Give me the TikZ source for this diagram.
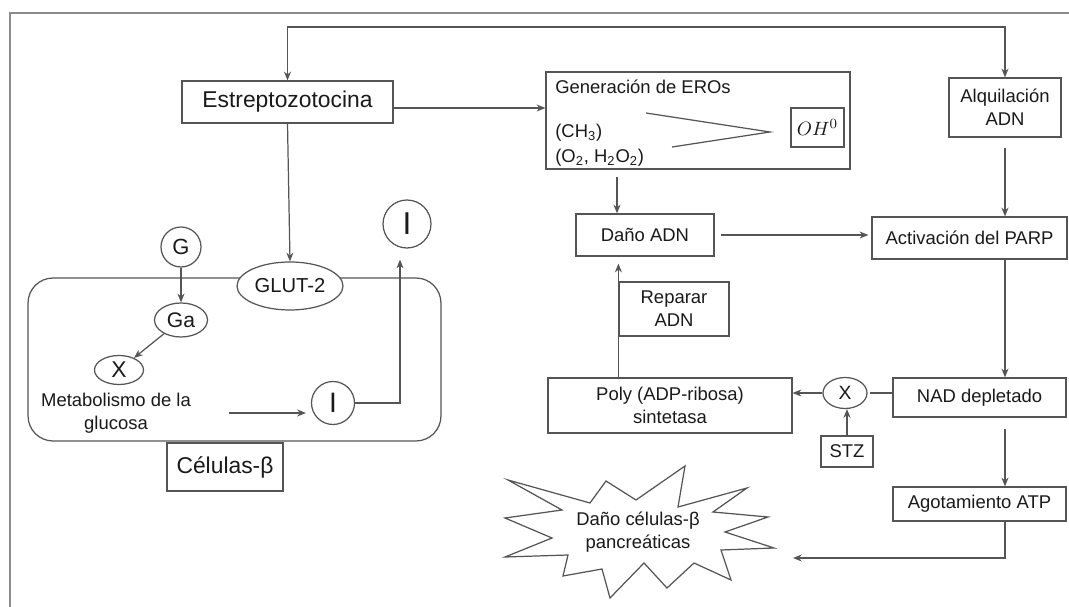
\documentclass[tikz,border=0pt]{standalone}
\usepackage{fontspec}
\setmainfont{Liberation Sans}
\usetikzlibrary{arrows.meta, positioning, calc, shapes.geometric}
\definecolor{ink}{HTML}{1A1A1A}
\definecolor{edge}{HTML}{555555}
\definecolor{frame}{HTML}{8C8C8C}
\newcommand{\fs}[1]{\fontsize{#1}{13}\selectfont}
\tikzset{
  font=\fs{10.5},
  >={Stealth[length=5pt, width=4pt]},
  %
  box/.style={draw=edge, line width=0.7pt, fill=white, inner sep=0pt,
              align=center, text=ink},
  oval/.style={box, ellipse},
  ring/.style={box, circle},
  %
  flow/.style={draw=edge, line width=0.7pt, ->},
  link/.style={draw=edge, line width=0.7pt},
  lbl/.style={inner sep=0pt, text=ink, align=left},
}

\begin{document}
\begin{tikzpicture}[x=0.02cm, y=-0.02cm]
  \useasboundingbox (0,0) rectangle (1069,607);

  % --- frame ------------------------------------------------------------
  \draw[draw=frame, line width=1pt] (10,607) -- (10,13) -- (1069,13);

  % --- beta cell --------------------------------------------------------
  \node[box, rounded corners=0.5cm, minimum width=8.26cm,
        minimum height=3.26cm] (cell) at (234.5,359.5) {};
  \node[box, minimum width=2.32cm, minimum height=0.96cm, font=\fs{13}]
    (beta) at (225,467) {Células-β};
  \node[oval, minimum width=2.12cm, minimum height=0.96cm, font=\fs{11.5}]
    (glut) at (290,286) {GLUT-2};
  \node[ring, minimum size=0.8cm, font=\fs{12.5}] (g) at (181,247) {G};
  \node[oval, minimum width=1.06cm, minimum height=0.68cm, font=\fs{12}]
    (ga) at (181,320) {Ga};
  \node[oval, minimum width=0.98cm, minimum height=0.58cm, font=\fs{13}]
    (xa) at (119,370) {X};
  \node[lbl, align=center] (metab) at (116,413) {Metabolismo de la\\glucosa};
  \node[ring, minimum size=0.86cm, font=\fs{16}] (iin) at (333,403) {I};
  \node[ring, minimum size=0.96cm, font=\fs{18}] (iout) at (407,224) {I};

  \node[box, minimum width=4.22cm, minimum height=0.84cm, font=\fs{13}]
    (estr) at (287.5,102) {Estreptozotocina};

  % --- ROS --------------------------------------------------------------
  \node[box, minimum width=6.08cm, minimum height=1.94cm] (eros) at (698,120.5) {};
  \node[lbl, anchor=west] (erostit) at (555,87) {Generación de EROs};
  \node[lbl, anchor=west] (ch) at (555,133) {(CH\textsubscript{3})};
  \node[lbl, anchor=west] (oo) at (555,158)
    {(O\textsubscript{2}, H\textsubscript{2}O\textsubscript{2})};
  \node[box, minimum width=1.06cm, minimum height=0.78cm, font=\fs{11}]
    (oh) at (817.5,127.5) {$OH^{0}$};
  \draw[link] (646,113) -- (770,132) -- (672,147);

  % --- DNA / PARP -------------------------------------------------------
  \node[box, minimum width=2.24cm, minimum height=1.18cm] (alq) at (1005,107.5)
    {Alquilación\\ADN};
  \node[box, minimum width=3.9cm, minimum height=0.84cm] (act) at (969.5,238)
    {Activación del PARP};
  \node[box, minimum width=2.76cm, minimum height=0.84cm] (dano) at (645,235)
    {Daño ADN};
  \node[box, minimum width=2.2cm, minimum height=1.08cm] (rep) at (674,309)
    {Reparar\\ADN};
  \node[box, minimum width=4.88cm, minimum height=1.1cm] (poly) at (670,405.5)
    {Poly (ADP-ribosa)\\sintetasa};
  \node[oval, minimum width=0.88cm, minimum height=0.62cm, font=\fs{11}]
    (xb) at (845,393) {X};
  \node[box, minimum width=3.46cm, minimum height=0.78cm] (nad) at (979.5,397.5)
    {NAD depletado};
  \node[box, minimum width=1.04cm, minimum height=0.62cm] (stz) at (847,451.5)
    {STZ};
  \node[box, minimum width=3.46cm, minimum height=0.68cm]
    (agot) at (979.5,504) {Agotamiento ATP};

  % --- damage burst -----------------------------------------------------
  \draw[link, fill=white] (508,480) -- (590,503) -- (606,481) -- (636,500)
    -- (685,466) -- (678,507) -- (747,488) -- (713,512) -- (768,517)
    -- (725,532) -- (774,548) -- (721,550) -- (731,580) -- (694,563)
    -- (667,588) -- (644,563) -- (610,598) -- (602,569) -- (563,576)
    -- (568,555) -- (505,557) -- (552,538) -- (505,518) -- (562,510) -- cycle;
  \node[lbl, align=center] (danocel) at (638,532) {Daño células-β\\pancreáticas};
  \coordinate (danocelin) at (793,558);
  \coordinate (topbar) at (640,27);

  % --- connectors -------------------------------------------------------
  \draw[<->, draw=edge, line width=0.7pt] (estr.north) |- (topbar) -| (alq.north);
  \draw[flow] ([yshift=-0.12cm]estr.east) -- ([yshift=-0.12cm]estr.east -| eros.west);
  \draw[flow] (estr.south) -- (glut.north);
  \draw[flow] (g) -- (ga);
  \draw[flow] (ga) -- (xa);
  \draw[flow, shorten <=0.76cm, shorten >=0.1cm] (metab.east) -- (metab.east -| iin.west);
  \draw[flow, shorten >=0.22cm] (iin.east) -| ([xshift=-0.14cm]iout.south);

  \draw[flow, shorten <=0.14cm] ([xshift=-0.56cm]dano.north |- eros.south)
    -- ([xshift=-0.56cm]dano.north);
  \draw[flow, shorten <=0.2cm] (alq.south) -- (alq.south |- act.north);
  \draw[flow, shorten <=0.12cm, shorten >=0.06cm] (dano.east) -- (dano.east -| act.west);
  \draw[flow] (act.south -| alq.south) -- (nad.north -| alq.south);
  \draw[link, shorten <=0.04cm] (xb.east) -- (xb.east -| nad.west);
  \draw[flow] (xb.west) -- (xb.west -| poly.east);
  \draw[flow] (stz.north) -- (stz.north |- xb.south);
  \draw[flow, shorten >=0.14cm] (poly.north -| rep.west) -- (dano.south -| rep.west);
  \draw[flow, shorten <=0.22cm] (nad.south -| alq.south) -- (agot.north -| alq.south);
  \draw[flow] (agot.south -| alq.south) |- (danocelin);

\end{tikzpicture}
\end{document}
